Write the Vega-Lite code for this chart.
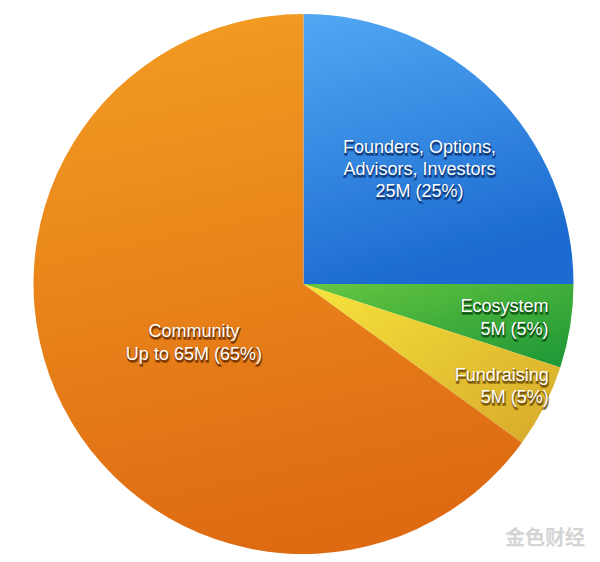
{
  "$schema": "https://vega.github.io/schema/vega-lite/v6.json",
  "width": 600,
  "height": 562,
  "autosize": {"type": "fit", "contains": "padding"},
  "padding": {"left": 7, "top": 6, "right": 0, "bottom": 0},
  "background": "white",
  "view": {"stroke": null},
  "title": {
    "text": "金色财经",
    "orient": "bottom",
    "anchor": "end",
    "frame": "group",
    "font": "Noto Sans CJK SC",
    "fontSize": 20,
    "fontWeight": "bold",
    "color": "#d4d4d4",
    "offset": 0,
    "dx": -15,
    "dy": -33
  },
  "data": {
    "values": [
      {"category": "Founders", "value": 25, "rank": 1, "label": "Founders, Options,\nAdvisors, Investors\n25M (25%)"},
      {"category": "Ecosystem", "value": 5, "rank": 2, "label": "Ecosystem\n5M (5%)"},
      {"category": "Fundraising", "value": 5, "rank": 3, "label": "Fundraising\n5M (5%)"},
      {"category": "Community", "value": 65, "rank": 4, "label": "Community\nUp to 65M (65%)"}
    ]
  },
  "transform": [
    {"stack": "value", "groupby": [], "sort": [{"field": "rank", "order": "ascending"}], "as": ["v0", "v1"]},
    {"calculate": "(datum.v0 + datum.v1) / 2", "as": "mid"}
  ],
  "encoding": {
    "theta": {"field": "v0", "type": "quantitative", "scale": {"domain": [0, 100]}}
  },
  "layer": [
    {
      "transform": [{"filter": "datum.category === 'Founders'"}],
      "mark": {"type": "arc", "outerRadius": 270, "color": {"gradient": "linear", "x1": 0, "y1": 0, "x2": 0.3, "y2": 1, "stops": [{"offset": 0, "color": "#52a8f3"}, {"offset": 1, "color": "#1b6bd0"}]}},
      "encoding": {"theta": {"field": "v0", "type": "quantitative", "scale": {"domain": [0, 100]}}, "theta2": {"field": "v1"}}
    },
    {
      "transform": [{"filter": "datum.category === 'Ecosystem'"}],
      "mark": {"type": "arc", "outerRadius": 270, "color": {"gradient": "linear", "x1": 0, "y1": 0, "x2": 1, "y2": 1, "stops": [{"offset": 0, "color": "#66c640"}, {"offset": 1, "color": "#1c9636"}]}},
      "encoding": {"theta": {"field": "v0", "type": "quantitative", "scale": {"domain": [0, 100]}}, "theta2": {"field": "v1"}}
    },
    {
      "transform": [{"filter": "datum.category === 'Fundraising'"}],
      "mark": {"type": "arc", "outerRadius": 270, "color": {"gradient": "linear", "x1": 0, "y1": 0, "x2": 1, "y2": 1, "stops": [{"offset": 0, "color": "#f6e43c"}, {"offset": 1, "color": "#d6a82a"}]}},
      "encoding": {"theta": {"field": "v0", "type": "quantitative", "scale": {"domain": [0, 100]}}, "theta2": {"field": "v1"}}
    },
    {
      "transform": [{"filter": "datum.category === 'Community'"}],
      "mark": {"type": "arc", "outerRadius": 270, "color": {"gradient": "linear", "x1": 0.2, "y1": 0, "x2": 0.4, "y2": 1, "stops": [{"offset": 0, "color": "#f29c22"}, {"offset": 1, "color": "#de6a12"}]}},
      "encoding": {"theta": {"field": "v0", "type": "quantitative", "scale": {"domain": [0, 100]}}, "theta2": {"field": "v1"}}
    },
    {
      "transform": [{"filter": "datum.category === 'Founders'"}],
      "mark": {"type": "text", "radius": 164, "align": "center", "baseline": "middle", "lineBreak": "\n", "lineHeight": 22, "font": "Liberation Sans", "fontSize": 18, "color": "#0a3576", "opacity": 0.9, "stroke": "#0a3576", "strokeWidth": 2, "strokeOpacity": 0.6, "dx": 0.5, "dy": -18},
      "encoding": {"theta": {"field": "mid", "type": "quantitative", "scale": {"domain": [0, 100]}}, "text": {"field": "label"}}
    },
    {
      "transform": [{"filter": "datum.category === 'Founders'"}],
      "mark": {"type": "text", "radius": 164, "align": "center", "baseline": "middle", "lineBreak": "\n", "lineHeight": 22, "font": "Liberation Sans", "fontSize": 18, "color": "#ffffff", "dy": -20},
      "encoding": {"theta": {"field": "mid", "type": "quantitative", "scale": {"domain": [0, 100]}}, "text": {"field": "label"}}
    },
    {
      "transform": [{"filter": "datum.category === 'Ecosystem'"}],
      "mark": {"type": "text", "radius": 245, "align": "right", "baseline": "middle", "lineBreak": "\n", "lineHeight": 23, "font": "Liberation Sans", "fontSize": 18, "color": "#0b4d10", "opacity": 0.9, "stroke": "#0b4d10", "strokeWidth": 2, "strokeOpacity": 0.6, "dx": 3.5, "dy": -13},
      "encoding": {"theta": {"field": "mid", "type": "quantitative", "scale": {"domain": [0, 100]}}, "text": {"field": "label"}}
    },
    {
      "transform": [{"filter": "datum.category === 'Ecosystem'"}],
      "mark": {"type": "text", "radius": 245, "align": "right", "baseline": "middle", "lineBreak": "\n", "lineHeight": 23, "font": "Liberation Sans", "fontSize": 18, "color": "#ffffff", "dx": 3, "dy": -15},
      "encoding": {"theta": {"field": "mid", "type": "quantitative", "scale": {"domain": [0, 100]}}, "text": {"field": "label"}}
    },
    {
      "transform": [{"filter": "datum.category === 'Fundraising'"}],
      "mark": {"type": "text", "radius": 255, "align": "right", "baseline": "middle", "lineBreak": "\n", "lineHeight": 22, "font": "Liberation Sans", "fontSize": 18, "color": "#6a4700", "opacity": 0.9, "stroke": "#6a4700", "strokeWidth": 2, "strokeOpacity": 0.6, "dx": 18.5, "dy": -22},
      "encoding": {"theta": {"field": "mid", "type": "quantitative", "scale": {"domain": [0, 100]}}, "text": {"field": "label"}}
    },
    {
      "transform": [{"filter": "datum.category === 'Fundraising'"}],
      "mark": {"type": "text", "radius": 255, "align": "right", "baseline": "middle", "lineBreak": "\n", "lineHeight": 22, "font": "Liberation Sans", "fontSize": 18, "color": "#ffffff", "dx": 18, "dy": -24},
      "encoding": {"theta": {"field": "mid", "type": "quantitative", "scale": {"domain": [0, 100]}}, "text": {"field": "label"}}
    },
    {
      "transform": [{"filter": "datum.category === 'Community'"}],
      "mark": {"type": "text", "radius": 123, "align": "center", "baseline": "middle", "lineBreak": "\n", "lineHeight": 23, "font": "Liberation Sans", "fontSize": 18, "color": "#6a2e00", "opacity": 0.9, "stroke": "#6a2e00", "strokeWidth": 2, "strokeOpacity": 0.6, "dx": 0.5, "dy": -6},
      "encoding": {"theta": {"field": "mid", "type": "quantitative", "scale": {"domain": [0, 100]}}, "text": {"field": "label"}}
    },
    {
      "transform": [{"filter": "datum.category === 'Community'"}],
      "mark": {"type": "text", "radius": 123, "align": "center", "baseline": "middle", "lineBreak": "\n", "lineHeight": 23, "font": "Liberation Sans", "fontSize": 18, "color": "#ffffff", "dy": -8},
      "encoding": {"theta": {"field": "mid", "type": "quantitative", "scale": {"domain": [0, 100]}}, "text": {"field": "label"}}
    }
  ]
}
